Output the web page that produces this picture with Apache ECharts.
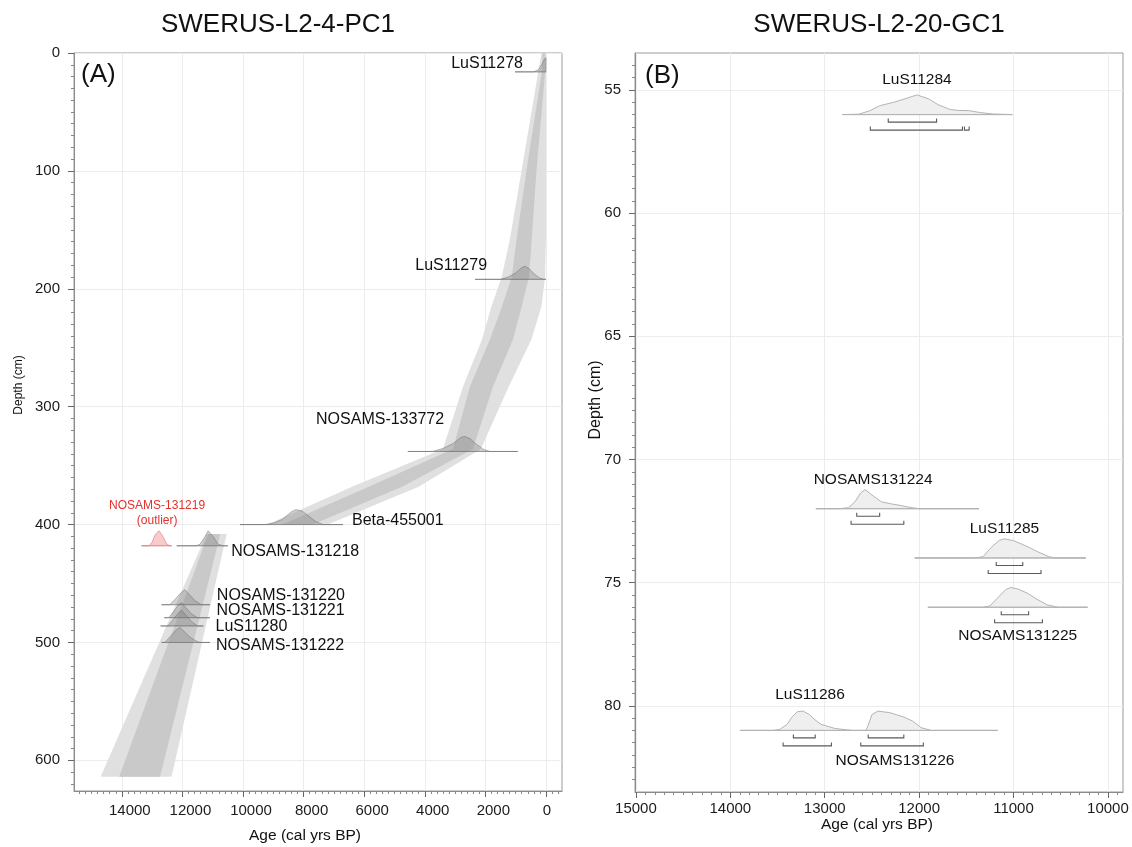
<!DOCTYPE html>
<html>
<head>
<meta charset="utf-8">
<script src="https://cdn.jsdelivr.net/npm/echarts@6/dist/echarts.min.js"></script>
<style>
html, body { margin: 0; padding: 0; background: #fff; }
#chart { width: 1132px; height: 847px; }
</style>
</head>
<body>
<div id="chart"></div>
<script>
const FONT = '"Liberation Sans", Arial, Helvetica, sans-serif';

// ---------- Core SWERUS-L2-4-PC1 (panel A) ----------
const namesA = ['LuS11278', 'LuS11279', 'NOSAMS-133772', 'Beta-455001', 'NOSAMS-131219\n(outlier)',
  'NOSAMS-131218', 'NOSAMS-131220', 'NOSAMS-131221', 'LuS11280', 'NOSAMS-131222'];
const depthsA = [16, 192, 338, 400, 418, 418, 468, 479, 486, 500];
const outlierA = [false, false, false, false, true, false, false, false, false, false];

// calibrated probability profiles: [age cal BP, relative probability]
const probLuS11278 = [[1020, 0], [420, 0], [260, 0.12], [150, 0.45], [60, 0.8], [0, 0.95], [0, 0]];
const probLuS11279 = [[2340, 0], [1500, 0], [1250, 0.15], [1000, 0.42], [800, 0.78], [690, 0.88], [550, 0.7], [380, 0.35], [200, 0.08], [60, 0], [0, 0]];
const probNOSAMS133772 = [[4560, 0], [3750, 0], [3400, 0.2], [3050, 0.55], [2800, 0.95], [2670, 1], [2500, 0.85], [2340, 0.55], [2070, 0.15], [1850, 0], [930, 0]];
const probBeta455001 = [[10100, 0], [9300, 0], [9000, 0.1], [8700, 0.35], [8400, 0.85], [8250, 1], [8050, 0.9], [7850, 0.6], [7600, 0.2], [7350, 0], [6700, 0]];
const probNOSAMS131219 = [[13350, 0], [13100, 0], [13000, 0.25], [12900, 0.75], [12770, 1], [12650, 0.65], [12530, 0.15], [12420, 0], [12360, 0]];
const probNOSAMS131218 = [[12190, 0], [11550, 0], [11420, 0.1], [11260, 0.6], [11150, 1], [10980, 0.6], [10820, 0.1], [10650, 0], [10500, 0]];
const probNOSAMS131220 = [[12690, 0], [12420, 0], [12250, 0.35], [12050, 0.8], [11920, 1], [11780, 0.7], [11600, 0.3], [11380, 0], [11090, 0]];
const probNOSAMS131221 = [[12600, 0], [12450, 0], [12300, 0.4], [12130, 0.85], [12030, 1], [11900, 0.7], [11700, 0.25], [11500, 0], [11090, 0]];
const probLuS11280 = [[12720, 0], [12480, 0], [12300, 0.45], [12120, 0.9], [12030, 1.05], [11900, 0.75], [11700, 0.3], [11500, 0], [11310, 0]];
const probNOSAMS131222 = [[12690, 0], [12580, 0], [12400, 0.4], [12200, 0.85], [12080, 1], [11950, 0.75], [11750, 0.35], [11500, 0.05], [11420, 0], [11090, 0]];
const profilesA = [probLuS11278, probLuS11279, probNOSAMS133772, probBeta455001, probNOSAMS131219,
  probNOSAMS131218, probNOSAMS131220, probNOSAMS131221, probLuS11280, probNOSAMS131222];

// age-depth model envelope, upper section (cm, cal BP)
const envDepthUpper = [0, 17, 99, 158, 190, 215, 243, 283, 336, 368, 400];
const env95YoungUpper = [0, 0, 0, 0, 30, 150, 480, 1230, 2150, 4200, 7200];
const env95OldUpper = [150, 260, 800, 1190, 1460, 1800, 2110, 2740, 3400, 6400, 9200];
const env68YoungUpper = [30, 30, 310, 470, 560, 800, 1090, 1750, 2410, 4750, 7700];
const env68OldUpper = [110, 140, 640, 970, 1130, 1450, 1850, 2510, 3070, 5850, 8700];
// lower section below the hiatus
const envDepthLower = [408, 614];
const env95YoungLower = [10540, 12360];
const env95OldLower = [11200, 14700];
const env68YoungLower = [10750, 12740];
const env68OldLower = [11150, 14090];

const ageTicksA = [0, 2000, 4000, 6000, 8000, 10000, 12000, 14000];
const depthTicksA = [0, 100, 200, 300, 400, 500, 600];

// ---------- Core SWERUS-L2-20-GC1 (panel B) ----------
const namesB = ['LuS11284', 'NOSAMS131224', 'LuS11285', 'NOSAMS131225', 'LuS11286', 'NOSAMS131226'];
const depthsB = [56, 72, 74, 76, 81, 81];
const probLuS11284 = [[12812, 0], [12640, 0.02], [12520, 0.2], [12418, 0.45], [12272, 0.62], [12150, 0.8], [12023, 1], [11900, 0.8], [11798, 0.5], [11671, 0.26], [11578, 0.21], [11470, 0.2], [11350, 0.1], [11215, 0.03], [11011, 0]];
const probNOSAMS131224 = [[13094, 0], [12850, 0], [12747, 0.05], [12680, 0.35], [12620, 0.8], [12572, 0.97], [12500, 0.7], [12400, 0.35], [12300, 0.25], [12200, 0.17], [12100, 0.07], [11998, 0], [11365, 0]];
const probLuS11285 = [[12046, 0], [11400, 0], [11322, 0.07], [11231, 0.56], [11150, 0.9], [11096, 0.97], [11000, 0.88], [10920, 0.72], [10820, 0.5], [10737, 0.3], [10628, 0.07], [10562, 0], [10234, 0]];
const probNOSAMS131225 = [[11907, 0], [11320, 0], [11249, 0.07], [11157, 0.53], [11080, 0.9], [11030, 1], [10950, 0.92], [10847, 0.7], [10750, 0.4], [10643, 0.12], [10525, 0], [10215, 0]];
const probLuS11286 = [[13898, 0], [13550, 0], [13478, 0.05], [13400, 0.3], [13350, 0.66], [13290, 0.95], [13230, 0.98], [13160, 0.8], [13112, 0.57], [13040, 0.31], [12893, 0.1], [12711, 0], [12564, 0]];
const probNOSAMS131226 = [[12564, 0], [12540, 0.25], [12500, 0.8], [12436, 0.98], [12310, 0.9], [12162, 0.68], [12071, 0.48], [11980, 0.14], [11871, 0], [11167, 0]];
const profilesB = [probLuS11284, probNOSAMS131224, probLuS11285, probNOSAMS131225, probLuS11286, probNOSAMS131226];
// highest-probability ranges (cal BP)
const range68B = [[[12327, 11815]], [[12661, 12418]], [[11183, 10902]], [[11130, 10840]], [[13332, 13101]], [[12539, 12162]]];
const range95B = [[[12517, 11541], [11520, 11470]], [[12721, 12162]], [[11268, 10709]], [[11200, 10694]], [[13441, 12929]], [[12618, 11955]]];

const ageTicksB = [10000, 11000, 12000, 13000, 14000, 15000];
const depthTicksB = [55, 60, 65, 70, 75, 80];

// ---------- layout / styling ----------
const DENS_H_A = 12.7;   // hump height, cm
const DENS_H_B = 0.8;    // hump height, cm
const labelLayoutA = [
  { align: 'right', dx: -23, dy: -8 }, { align: 'right', dx: -38, dy: -14 },
  { align: 'center', dx: -85, dy: -32 }, { align: 'left', dx: 56, dy: -4 },
  { align: 'center', dx: -2, dy: -33 }, { align: 'left', dx: 23, dy: 5.5 },
  { align: 'left', dx: 32, dy: -9.5 }, { align: 'left', dx: 35, dy: -7 },
  { align: 'left', dx: 34, dy: 1 }, { align: 'left', dx: 36, dy: 3 }
];
const labelLayoutB = [
  { dx: 0, dy: -35 }, { dx: 8, dy: -28.5 }, { dx: 0, dy: -29.5 },
  { dx: 7, dy: 28 }, { dx: 7, dy: -35.5 }, { dx: 17, dy: 30 }
];

function peakAge(profile) {
  let best = profile[0];
  profile.forEach(p => { if (p[1] > best[1]) best = p; });
  return best[0];
}

function humpPoints(api, profile, depth, h) {
  return profile.map(p => api.coord([p[0], depth - p[1] * h]));
}

const envBands = [
  { depth: envDepthUpper, young: env95YoungUpper, old: env95OldUpper, fill: '#e0e0e0' },
  { depth: envDepthLower, young: env95YoungLower, old: env95OldLower, fill: '#e0e0e0' },
  { depth: envDepthUpper, young: env68YoungUpper, old: env68OldUpper, fill: '#c9c9c9' },
  { depth: envDepthLower, young: env68YoungLower, old: env68OldLower, fill: '#c9c9c9' }
];

function ageAxis(gridIndex, min, max, splitNumber, ticks, margin, shifted) {
  const base = { fontSize: 15, fontFamily: FONT, color: '#1b1b1b' };
  return {
    type: 'value', gridIndex, min, max, splitNumber, inverse: true, position: 'bottom',
    axisLine: { show: true, onZero: false, lineStyle: { color: '#8c8c8c', width: 1 } },
    axisTick: { show: true, inside: false, length: 6, customValues: ticks, lineStyle: { color: '#666' } },
    minorTick: { show: true, splitNumber: 10, length: 3, lineStyle: { color: '#888' } },
    axisLabel: {
      customValues: ticks, margin, ...base,
      formatter: v => shifted ? (v === 0 ? '{z|0}' : '{n|' + v + '}') : String(v),
      rich: { n: { ...base, padding: [0, 0, 0, 16] }, z: { ...base, padding: [0, 0, 0, 2] } }
    },
    splitLine: { show: true, lineStyle: { color: '#ececec', width: 1 } }
  };
}

function depthAxis(gridIndex, min, max, splitNumber, ticks) {
  return {
    type: 'value', gridIndex, min, max, splitNumber, inverse: true, position: 'left',
    axisLine: { show: true, onZero: false, lineStyle: { color: '#8c8c8c', width: 1 } },
    axisTick: { show: true, inside: false, length: 6, customValues: ticks, lineStyle: { color: '#666' } },
    minorTick: { show: true, splitNumber: 10, length: 3, lineStyle: { color: '#888' } },
    axisLabel: { customValues: ticks, margin: 14, fontSize: 15, fontFamily: FONT, color: '#1b1b1b', formatter: v => String(v) },
    splitLine: { show: true, lineStyle: { color: '#ececec', width: 1 } }
  };
}

const envelopeSeries = {
  type: 'custom', xAxisIndex: 0, yAxisIndex: 0, z: 1, silent: true,
  data: envBands.map(b => [b.young[0], b.depth[0]]),
  renderItem: (params, api) => {
    const b = envBands[params.dataIndex];
    const pts = [];
    b.depth.forEach((d, i) => pts.push(api.coord([b.young[i], d])));
    for (let i = b.depth.length - 1; i >= 0; i--) pts.push(api.coord([b.old[i], b.depth[i]]));
    return { type: 'polygon', shape: { points: pts }, style: { fill: b.fill, stroke: null } };
  }
};

const densitySeriesA = {
  type: 'custom', xAxisIndex: 0, yAxisIndex: 0, z: 3, silent: true,
  data: depthsA.map((d, i) => [peakAge(profilesA[i]), d]),
  renderItem: (params, api) => {
    const i = params.dataIndex;
    const prof = profilesA[i];
    const red = outlierA[i];
    const pts = humpPoints(api, prof, depthsA[i], DENS_H_A);
    const b0 = api.coord([prof[0][0], depthsA[i]]);
    const b1 = api.coord([prof[prof.length - 1][0], depthsA[i]]);
    const pk = api.coord([peakAge(prof), depthsA[i]]);
    const lay = labelLayoutA[i];
    return {
      type: 'group', children: [
        { type: 'polygon', shape: { points: pts }, style: {
          fill: red ? 'rgba(240,140,140,0.45)' : 'rgba(120,120,120,0.33)',
          stroke: red ? 'rgba(225,110,110,0.7)' : 'rgba(90,90,90,0.5)', lineWidth: 0.8 } },
        { type: 'line', shape: { x1: b0[0], y1: b0[1], x2: b1[0], y2: b1[1] }, style: {
          stroke: red ? 'rgba(225,110,110,0.6)' : 'rgba(110,110,110,0.55)', lineWidth: 0.8 } },
        { type: 'text', x: pk[0] + lay.dx, y: pk[1] + lay.dy, style: {
          text: namesA[i], fill: red ? '#e3312b' : '#111',
          fontSize: red ? 12 : 16, fontFamily: FONT, lineHeight: red ? 15 : 18,
          align: lay.align, verticalAlign: 'middle' } }
      ]
    };
  }
};

function bracket(api, range, depth, off) {
  const p1 = api.coord([range[0], depth]);
  const p2 = api.coord([range[1], depth]);
  const y = p1[1] + off;
  return { type: 'polyline', shape: { points: [[p1[0], y - 3.5], [p1[0], y], [p2[0], y], [p2[0], y - 3.5]] },
    style: { stroke: '#5a5a5a', lineWidth: 1.1, fill: null } };
}

const densitySeriesB = {
  type: 'custom', xAxisIndex: 1, yAxisIndex: 1, z: 3, silent: true,
  data: depthsB.map((d, i) => [peakAge(profilesB[i]), d]),
  renderItem: (params, api) => {
    const i = params.dataIndex;
    const prof = profilesB[i];
    const pts = humpPoints(api, prof, depthsB[i], DENS_H_B);
    const b0 = api.coord([prof[0][0], depthsB[i]]);
    const b1 = api.coord([prof[prof.length - 1][0], depthsB[i]]);
    const pk = api.coord([peakAge(prof), depthsB[i]]);
    const lay = labelLayoutB[i];
    const children = [
      { type: 'polygon', shape: { points: pts }, style: { fill: '#efefef', stroke: '#b4b4b4', lineWidth: 1 } },
      { type: 'line', shape: { x1: b0[0], y1: b0[1], x2: b1[0], y2: b1[1] }, style: { stroke: '#b4b4b4', lineWidth: 1 } }
    ];
    range68B[i].forEach(r => children.push(bracket(api, r, depthsB[i], 7.5)));
    range95B[i].forEach(r => children.push(bracket(api, r, depthsB[i], 15.5)));
    children.push({ type: 'text', x: pk[0] + lay.dx, y: pk[1] + lay.dy, style: {
      text: namesB[i], fill: '#111', fontSize: 15.5, fontFamily: FONT, align: 'center', verticalAlign: 'middle' } });
    return { type: 'group', children };
  }
};

const textStyle = (text, size, align) => ({ text, fontSize: size, fontFamily: FONT, fill: '#111', align, verticalAlign: 'middle' });

const option = {
  animation: false,
  backgroundColor: '#fff',
  grid: [
    { left: 74, top: 53, width: 488, height: 738, show: true, borderColor: '#9a9a9a', borderWidth: 1, containLabel: false, outerBoundsMode: 'none' },
    { left: 635, top: 53, width: 488, height: 739, show: true, borderColor: '#9a9a9a', borderWidth: 1, containLabel: false, outerBoundsMode: 'none' }
  ],
  xAxis: [
    ageAxis(0, -530, 15580, 8, ageTicksA, 12, true),
    ageAxis(1, 9840, 15010, 5, ageTicksB, 9, false)
  ],
  yAxis: [
    depthAxis(0, 0, 626, 6, depthTicksA),
    depthAxis(1, 53.5, 83.5, 6, depthTicksB)
  ],
  series: [envelopeSeries, densitySeriesA, densitySeriesB],
  graphic: [
    { type: 'text', x: 278, y: 25, style: textStyle('SWERUS-L2-4-PC1', 26, 'center') },
    { type: 'text', x: 879, y: 25, style: textStyle('SWERUS-L2-20-GC1', 26, 'center') },
    { type: 'text', x: 81, y: 75, style: textStyle('(A)', 26, 'left') },
    { type: 'text', x: 645, y: 76, style: textStyle('(B)', 26, 'left') },
    { type: 'text', x: 305, y: 836, style: textStyle('Age (cal yrs BP)', 15.5, 'center') },
    { type: 'text', x: 877, y: 825, style: textStyle('Age (cal yrs BP)', 15.5, 'center') },
    { type: 'text', x: 19, y: 385, rotation: Math.PI / 2, style: textStyle('Depth (cm)', 12, 'center') },
    { type: 'text', x: 596, y: 400, rotation: Math.PI / 2, style: textStyle('Depth (cm)', 16, 'center') }
  ]
};

const chart = echarts.init(document.getElementById('chart'), null, { renderer: 'canvas' });
chart.setOption(option);
</script>
</body>
</html>
